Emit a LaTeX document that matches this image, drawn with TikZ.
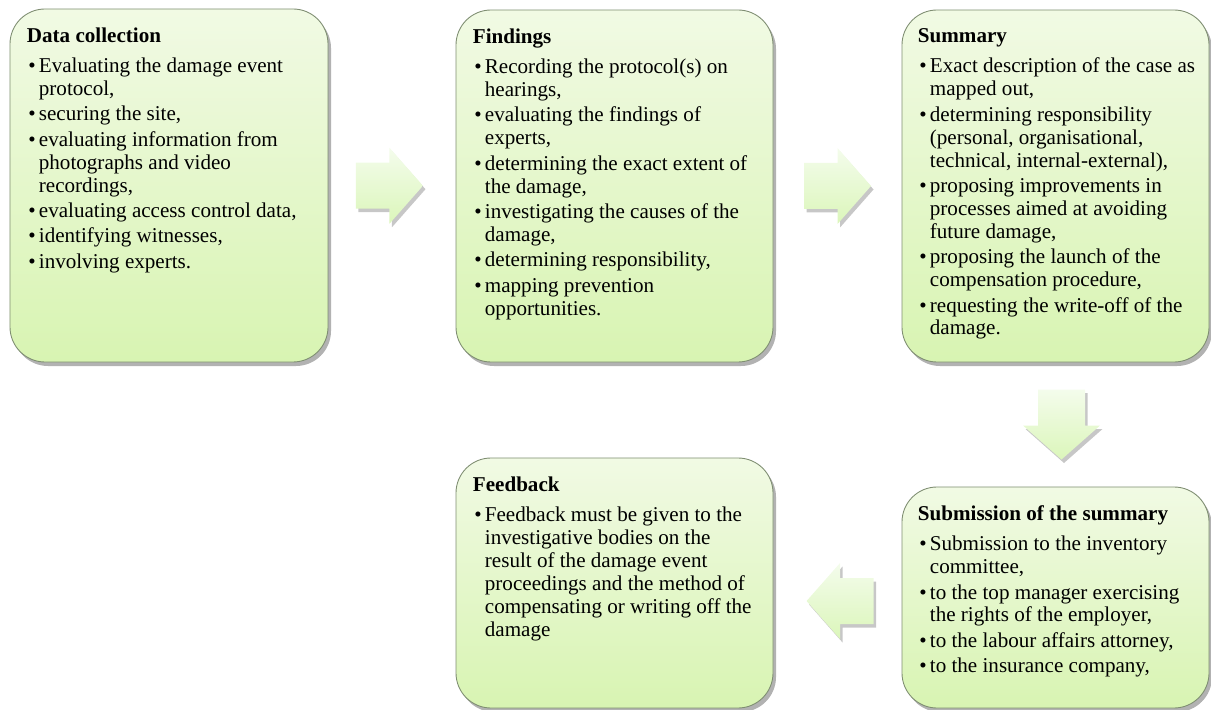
\documentclass[tikz,border=0pt]{standalone}
\usepackage{fontspec}
\setmainfont{Liberation Serif}
\usepackage{xcolor}
\usetikzlibrary{calc,positioning,shadows}
\definecolor{boxtop}{HTML}{F1FAE4}
\definecolor{boxbot}{HTML}{D8F4B2}
\definecolor{arrtop}{HTML}{F4FCEC}
\definecolor{arrbot}{HTML}{DBF6BA}
\definecolor{edge}{HTML}{7F8E72}
\newcommand{\bitem}{\par\hangindent=2.4mm\hangafter=1\noindent
  \makebox[2.4mm][l]{\hspace{0.3mm}\textbullet}}
\newcommand{\nohyph}{\hyphenpenalty=10000 \exhyphenpenalty=10000 \parskip=1.4pt\relax}
\tikzset{
  stepbox/.style={
    rounded corners=7mm,draw=edge,line width=.5pt,
    top color=boxtop,bottom color=boxbot,
    drop shadow={shadow xshift=.6mm,shadow yshift=-.8mm,fill=black,opacity=.3}
  },
  steptext/.style={
    anchor=north west,inner sep=0pt,align=flush left,
    font={\fontsize{12}{13.05}\selectfont\nohyph}
  },
  flow/.style={
    draw=none,
    drop shadow={shadow xshift=.5mm,shadow yshift=-.7mm,fill=black,opacity=.22}
  }
}
\begin{document}
\begin{tikzpicture}[x=0.2mm,y=-0.2mm]
\useasboundingbox (0,0) rectangle (1211,710);

% boxes
\node[stepbox,minimum width=63.6mm,minimum height=70.6mm] (collect) at (169,185.5) {};
\node[stepbox,minimum width=63.4mm,minimum height=70.4mm] (findings) at (614.5,186) {};
\node[stepbox,minimum width=61.4mm,minimum height=70.4mm] (summary) at (1055.5,186) {};
\node[stepbox,minimum width=63.4mm,minimum height=50mm] (feedback) at (614.5,583) {};
\node[stepbox,minimum width=61.4mm,minimum height=44.2mm] (submit) at (1055.5,597.5) {};

% texts
\node[steptext,text width=56.8mm] (collect-txt) at ($(collect.north west)+(17,19)$)
{\textbf{Data collection}\par\vspace{2.6pt}
\bitem Evaluating the damage event protocol,
\bitem securing the site,
\bitem evaluating information from photographs and video recordings,
\bitem evaluating access control data,
\bitem identifying witnesses,
\bitem involving experts.\par};

\node[steptext,text width=56.8mm] (findings-txt) at ($(findings.north west)+(17,19)$)
{\textbf{Findings}\par\vspace{2.6pt}
\bitem Recording the protocol(s) on hearings,
\bitem evaluating the findings of experts,
\bitem determining the exact extent of the damage,
\bitem investigating the causes of the damage,
\bitem determining responsibility,
\bitem mapping prevention opportunities.\par};

\node[steptext,text width=57.6mm] (summary-txt) at ($(summary.north west)+(16,19)$)
{\textbf{Summary}\par\vspace{2.6pt}
\bitem Exact description of the case as mapped out,
\bitem determining responsibility (personal, organisational, technical, internal-external),
\bitem proposing improvements in processes aimed at avoiding future damage,
\bitem proposing the launch of the compensation procedure,
\bitem requesting the write-off of the damage.\par};

\node[steptext,text width=56.8mm] (feedback-txt) at ($(feedback.north west)+(17,19)$)
{\textbf{Feedback}\par\vspace{2.6pt}
\bitem Feedback must be given to the investigative bodies on the result of the damage event proceedings and the method of compensating or writing off the damage\par};

\node[steptext,text width=57.6mm] (submit-txt) at ($(submit.north west)+(16,19)$)
{\textbf{Submission of the summary}\par\vspace{2.6pt}
\bitem Submission to the inventory committee,
\bitem to the top manager exercising the rights of the employer,
\bitem to the labour affairs attorney,
\bitem to the insurance company,\par};

% arrows between steps
\coordinate (a1) at ($(collect.east)!0.48!(findings.west)$);
\coordinate (a2) at ($(findings.east)!0.5!(summary.west)$);
\coordinate (a3) at ($(summary.south)!0.5!(submit.north)+(6,0)$);
\coordinate (a4) at ($(feedback.east|-0,601)!0.52!(submit.west|-0,601)$);

\path[flow,top color=arrtop,bottom color=arrbot] (a1) ++(-33.5,-23) -- ++(33.5,0)
  -- ++(0,-15) -- ++(33.5,38) -- ++(-33.5,38) -- ++(0,-15) -- ++(-33.5,0) -- cycle;
\path[flow,top color=arrtop,bottom color=arrbot] (a2) ++(-33.5,-23) -- ++(33.5,0)
  -- ++(0,-15) -- ++(33.5,38) -- ++(-33.5,38) -- ++(0,-15) -- ++(-33.5,0) -- cycle;
\path[flow,top color=arrtop,bottom color=arrbot] (a3) ++(-23.5,-35) -- ++(0,36)
  -- ++(-15,0) -- ++(38.5,34) -- ++(38.5,-34) -- ++(-15,0) -- ++(0,-36) -- cycle;
\path[flow,top color=arrtop,bottom color=arrbot] (a4) ++(33.5,-23) -- ++(-33.5,0)
  -- ++(0,-15) -- ++(-33.5,38) -- ++(33.5,38) -- ++(0,-15) -- ++(33.5,0) -- cycle;
\end{tikzpicture}
\end{document}
